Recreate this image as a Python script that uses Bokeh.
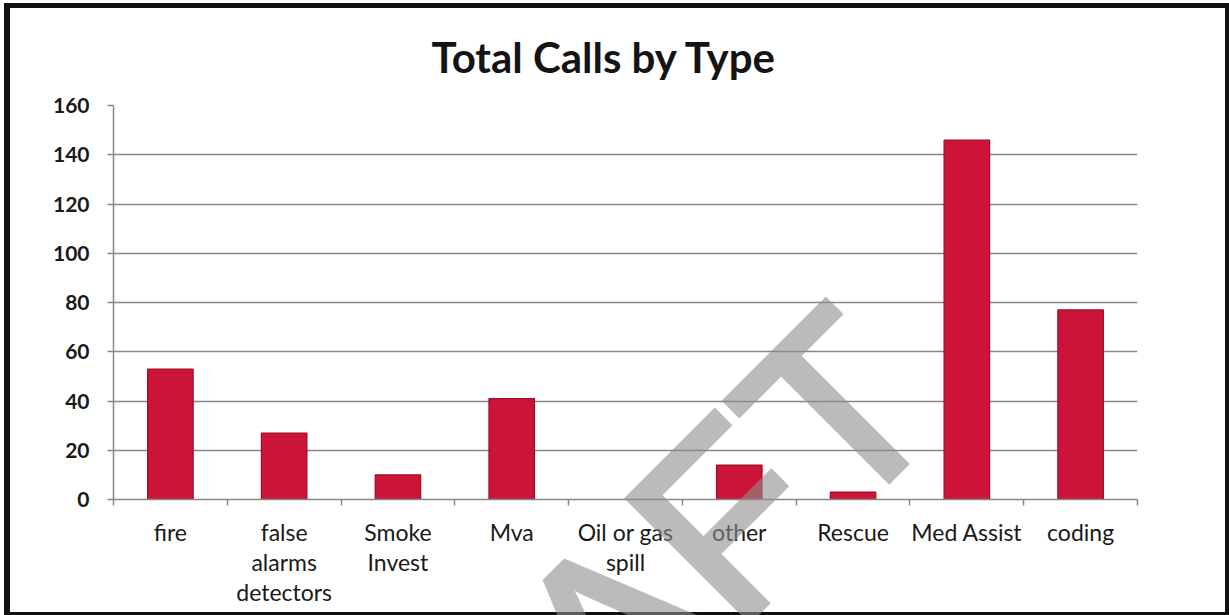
from bokeh.plotting import figure
from bokeh.models import (ColumnDataSource, Range1d, LinearAxis, FixedTicker, Div)
from bokeh.layouts import column
from bokeh.embed import file_html
from bokeh.resources import INLINE

# ---- data ----
categories = ["fire", "false alarms detectors", "Smoke Invest", "Mva", "Oil or gas spill",
              "other", "Rescue", "Med Assist", "coding"]
calls = [53, 27, 10, 41, 0, 14, 3, 146, 77]
label_lines = {"false alarms detectors": "false\nalarms\ndetectors",
               "Smoke Invest": "Smoke\nInvest",
               "Oil or gas spill": "Oil or gas\nspill"}
y_ticks = [0, 20, 40, 60, 80, 100, 120, 140, 160]
title_text = "Total Calls by Type"
watermark_text = "DRAFT"

FONT = "Lato"
GRID = "#878787"

n = len(categories)
centers = [i + 0.5 for i in range(n)]
src = ColumnDataSource(dict(x=centers, cat=categories, val=calls))

p = figure(width=1229, height=615, output_backend="svg", toolbar_location=None,
           x_range=Range1d(0, n), y_range=Range1d(0, 160), x_axis_location=None,
           min_border_left=113, min_border_right=92, min_border_top=105, min_border_bottom=116)
p.outline_line_color = None
p.background_fill_color = "white"
p.border_fill_color = "white"

# title
p.title.text = title_text
p.title.align = "left"
p.title.offset = 318
p.title.text_font = FONT
p.title.text_font_style = "bold"
p.title.text_font_size = "42px"
p.title.text_color = "#141414"
p.title.standoff = 48

# bars
p.vbar(x="x", top="val", width=0.4, source=src, fill_color="#cc1439",
       line_color="#9c0c2a", line_width=1.2)

# y axis
ya = p.yaxis[0]
ya.ticker = FixedTicker(ticks=y_ticks)
ya.minor_tick_line_color = None
ya.axis_line_color = GRID
ya.axis_line_width = 1.5
ya.major_tick_line_color = GRID
ya.major_tick_line_width = 1.5
ya.major_tick_out = 6
ya.major_tick_in = 0
ya.major_label_text_font = FONT
ya.major_label_text_font_style = "bold"
ya.major_label_text_font_size = "21px"
ya.major_label_text_color = "#1a1a1a"
ya.major_label_standoff = 18

p.ygrid.ticker = FixedTicker(ticks=y_ticks)
p.ygrid.grid_line_color = GRID
p.ygrid.grid_line_width = 1.7
p.xgrid.grid_line_color = None

# x axis tick marks at category boundaries
edge_axis = LinearAxis(ticker=FixedTicker(ticks=list(range(n + 1))),
                       axis_line_color=GRID, axis_line_width=1.5,
                       major_tick_line_color=GRID, major_tick_line_width=1.5,
                       major_tick_out=6, major_tick_in=0, minor_tick_line_color=None,
                       major_label_text_font_size="1px", major_label_text_alpha=0,
                       major_label_standoff=0)
p.add_layout(edge_axis, "below")

# category labels at bar centres
cat_axis = LinearAxis(ticker=FixedTicker(ticks=centers),
                      axis_line_color=None, major_tick_line_color=None,
                      minor_tick_line_color=None,
                      major_label_text_font=FONT, major_label_text_font_size="23px",
                      major_label_text_line_height=1.08,
                      major_label_text_color="#1a1a1a", major_label_standoff=6,
                      major_label_overrides={c: label_lines.get(name, name)
                                             for c, name in zip(centers, categories)})
p.add_layout(cat_axis, "below")

# scanned-page frame and diagonal watermark, laid over the figure
frame_div = Div(text="", margin=0, styles={
    "position": "absolute", "left": "4px", "top": "3px",
    "width": "1225px", "height": "612px", "box-sizing": "border-box",
    "border-style": "solid", "border-color": "#111111",
    "border-width": "5px 4px 3px 6px", "pointer-events": "none"})
mark_div = Div(text=watermark_text, margin=0, styles={
    "position": "absolute", "left": "119px", "top": "207px",
    "font-family": "'Liberation Sans', sans-serif", "font-size": "250px",
    "line-height": "250px", "white-space": "nowrap",
    "color": "#8e8e8e", "-webkit-text-stroke": "6px #8e8e8e", "opacity": "0.6",
    "transform-origin": "100% 212px", "transform": "rotate(-45deg)",
    "pointer-events": "none"})

layout = column(p, frame_div, mark_div, spacing=0)

open("out.html", "w").write(file_html(layout, INLINE))
